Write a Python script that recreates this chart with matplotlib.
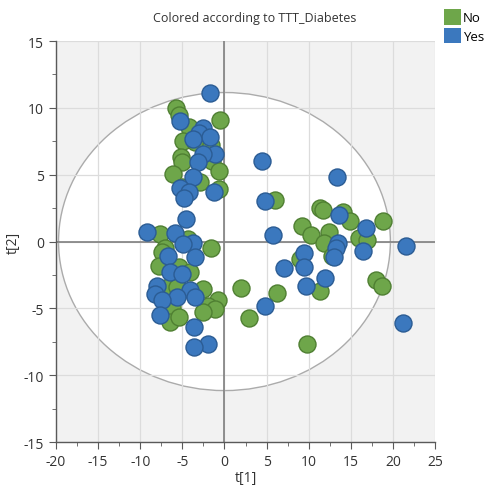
import matplotlib.pyplot as plt
from matplotlib.patches import Ellipse, Patch
from matplotlib.ticker import MultipleLocator

plt.rcParams['font.family'] = ['Open Sans', 'DejaVu Sans']
plt.rcParams['axes.unicode_minus'] = False

# scores for the "No" group (green)
no_x = [6.0, 11.35, 11.75, 14.1, 14.9, 9.25, 10.28, 12.38, 18.87, 11.83, 12.74,
        16.0, 16.97, 8.98, 11.35, 18.0, 18.68, 6.28, 9.85, 2.9, 1.97,
        -5.75, -5.39, -0.52, -4.2, -4.95, -3.49, -1.59, -5.15, -5.0, -1.51,
        -0.64, -6.07, -2.9, -5.1, -0.6, -7.65, -4.29, -1.59, -7.05, -7.45,
        -7.73, -5.36, -4.09, -6.66, -5.67, -2.58, -0.72, -1.91, -1.12,
        -6.26, -2.58, -6.46, -5.36]
no_y = [3.14, 2.52, 2.39, 2.2, 1.57, 1.15, 0.52, 0.7, 1.5, -0.12, -1.05,
        0.25, 0.15, -1.29, -3.71, -2.84, -3.34, -3.86, -7.7, -5.75, -3.49,
        10.0, 9.5, 9.1, 8.6, 7.5, 7.43, 7.25, 6.36, 5.94, 6.06,
        5.31, 5.06, 4.44, 4.1, 3.94, 0.58, 0.2, -0.47, -0.47, -0.8,
        -1.8, -1.92, -2.29, -3.41, -3.41, -3.54, -4.41, -4.79, -5.03,
        -4.91, -5.28, -6.03, -5.65]

# scores for the "Yes" group (blue)
yes_x = [4.5, 13.4, 4.8, 13.57, 16.8, 5.73, 13.53, 13.2, 13.0, 16.5, 21.57,
         9.45, 9.45, 7.04, 11.95, 9.73, 4.82, 21.25,
         -1.71, -5.27, -2.58, -2.98, -1.71, -3.69, -1.12, -2.5, -3.17, -3.77,
         -5.27, -4.17, -4.8, -1.2, -4.56, -9.16, -5.87, -3.69, -4.88, -6.66,
         -3.49, -6.46, -5.07, -8.04, -8.24, -4.09, -5.67, -3.49, -7.45,
         -7.65, -3.61, -1.98, -3.61]
yes_y = [6.06, 4.86, 3.0, 2.02, 1.0, 0.52, -0.1, -0.47, -1.17, -0.7, -0.32,
         -0.87, -1.92, -1.99, -2.74, -3.31, -4.79, -6.11,
         11.12, 9.05, 8.48, 8.1, 7.8, 7.68, 6.56, 6.56, 5.94, 4.82,
         3.99, 3.69, 3.27, 3.69, 1.7, 0.7, 0.63, -0.1, -0.17, -1.05,
         -1.17, -2.29, -2.42, -3.29, -3.91, -3.59, -4.16, -4.16, -4.41,
         -5.53, -6.4, -7.65, -7.9]

fig = plt.figure(figsize=(4.9, 4.89), dpi=100)
ax = fig.add_axes([0.1143, 0.094, 0.7735, 0.82])
ax.set_facecolor('#f2f2f2')

# Hotelling T2 ellipse
ell = Ellipse((0, 0), 2 * 19.7, 2 * 11.15, facecolor='white', edgecolor='#ababab',
              linewidth=1.0, zorder=0.5)
ax.add_patch(ell)

ax.set_xlim(-20, 25)
ax.set_ylim(-15, 15)
ax.xaxis.set_major_locator(MultipleLocator(5))
ax.yaxis.set_major_locator(MultipleLocator(5))
ax.xaxis.set_minor_locator(MultipleLocator(2.5))
ax.yaxis.set_minor_locator(MultipleLocator(2.5))
ax.grid(True, which='major', color='#dcdcdc', linewidth=0.9, zorder=1)
ax.set_axisbelow(True)
ax.axhline(0, color='#7f7f7f', linewidth=1.2, zorder=1.5)
ax.axvline(0, color='#7f7f7f', linewidth=1.2, zorder=1.5)

ax.scatter(no_x, no_y, s=150, color='#6ea64a', edgecolor='#4f7f32', linewidth=1.0, zorder=3)
ax.scatter(yes_x, yes_y, s=150, color='#3b78be', edgecolor='#2b5c94', linewidth=1.0, zorder=3)

for side in ['top', 'right']:
    ax.spines[side].set_visible(False)
for side in ['left', 'bottom']:
    ax.spines[side].set_color('#595959')
    ax.spines[side].set_linewidth(1.0)
ax.tick_params(which='major', direction='out', length=5, color='#595959', labelsize=10,
               labelcolor='#333333')
ax.tick_params(which='minor', direction='out', length=3, color='#595959')

ax.set_xlabel('t[1]', fontsize=10, color='#333333', labelpad=1)
ax.set_ylabel('t[2]', fontsize=10, color='#333333', labelpad=2)
fig.text(0.52, 0.963, 'Colored according to TTT_Diabetes', ha='center', va='center',
         fontsize=9, color='#333333')

handles = [Patch(facecolor='#6ea64a', edgecolor='none', label='No'),
           Patch(facecolor='#3b78be', edgecolor='none', label='Yes')]
fig.legend(handles=handles, loc='upper left', bbox_to_anchor=(0.89, 0.995), frameon=False,
           fontsize=9.5, handlelength=1.3, handleheight=1.4, handletextpad=0.15,
           labelspacing=0.25, borderpad=0.1)

fig.savefig('out.png', dpi=100)
